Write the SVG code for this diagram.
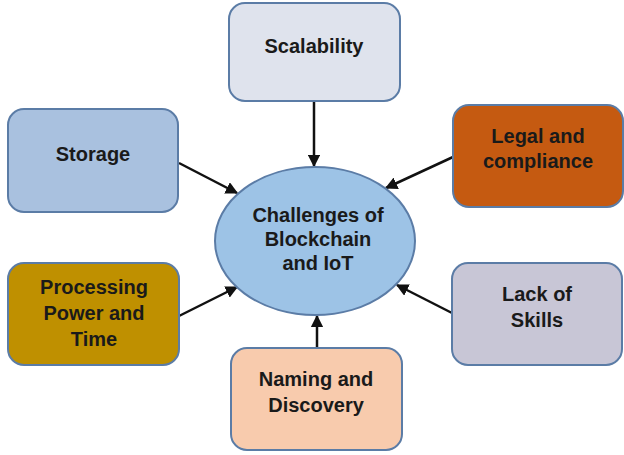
<svg xmlns="http://www.w3.org/2000/svg" width="624" height="455" viewBox="0 0 624 455">
<defs>
<marker id="ah" viewBox="0 0 10 10" refX="9" refY="5" markerWidth="5" markerHeight="5" markerUnits="strokeWidth" orient="auto">
<path d="M0,0 L10,5 L0,10 z" fill="#111"/>
</marker>
</defs>
<style>
.box{stroke:#5b7ca6;stroke-width:2}
.t{font-family:"Liberation Sans",Arial,sans-serif;font-weight:bold;font-size:20px;fill:#1a1a1a;text-anchor:middle}
.c{stroke:#111;stroke-width:2.5;fill:none;marker-end:url(#ah)}
</style>
<rect width="624" height="455" fill="#fff"/>
<g id="connectors">
<line class="c" x1="314" y1="101" x2="314" y2="166"/>
<line class="c" x1="179" y1="163" x2="237" y2="193"/>
<line class="c" x1="453" y1="157" x2="386" y2="188"/>
<line class="c" x1="179" y1="316" x2="237" y2="287"/>
<line class="c" x1="452" y1="313" x2="397" y2="285"/>
<line class="c" x1="317" y1="348" x2="317" y2="316"/>
</g>
<g id="center">
<ellipse cx="315" cy="241" rx="100" ry="74" fill="#9dc3e6" stroke="#5b7ca6" stroke-width="2"/>
<text class="t" x="318" y="222">Challenges of</text>
<text class="t" x="318" y="246">Blockchain</text>
<text class="t" x="318" y="270">and IoT</text>
</g>
<g id="scalability">
<rect class="box" x="229" y="3" width="171" height="98" rx="16" fill="#dfe3ed"/>
<text class="t" x="314" y="53">Scalability</text>
</g>
<g id="storage">
<rect class="box" x="8" y="109" width="170" height="103" rx="16" fill="#a9c1df"/>
<text class="t" x="93" y="161">Storage</text>
</g>
<g id="legal">
<rect class="box" x="453" y="105" width="170" height="102" rx="16" fill="#c55a11"/>
<text class="t" x="538" y="143">Legal and</text>
<text class="t" x="538" y="168">compliance</text>
</g>
<g id="processing">
<rect class="box" x="8" y="263" width="171" height="102" rx="16" fill="#bf9000"/>
<text class="t" x="94" y="294">Processing</text>
<text class="t" x="94" y="320">Power and</text>
<text class="t" x="94" y="346">Time</text>
</g>
<g id="lack">
<rect class="box" x="452" y="263" width="170" height="102" rx="16" fill="#c8c6d6"/>
<text class="t" x="537" y="301">Lack of</text>
<text class="t" x="537" y="327">Skills</text>
</g>
<g id="naming">
<rect class="box" x="231" y="348" width="171" height="102" rx="16" fill="#f8cbad"/>
<text class="t" x="316" y="386">Naming and</text>
<text class="t" x="316" y="412">Discovery</text>
</g>
</svg>
